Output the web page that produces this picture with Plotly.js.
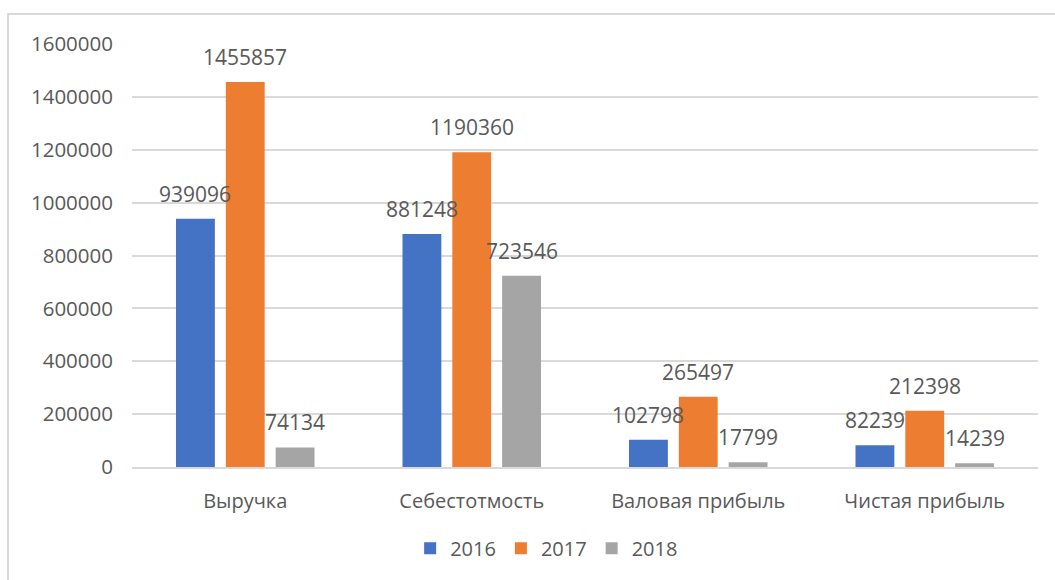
<!DOCTYPE html>
<html>
<head>
<meta charset="utf-8">
<script src="https://cdn.plot.ly/plotly-3.0.1.min.js"></script>
<style>
html,body{margin:0;padding:0;background:#fff;overflow:hidden;}
#chart{width:1055px;height:580px;}
#frame{position:fixed;left:7px;top:13px;width:1100px;height:620px;border:2px solid #D9D9D9;pointer-events:none;}
</style>
</head>
<body>
<div id="chart"></div>
<div id="frame"></div>
<script>
var categories = ["Выручка", "Себестотмость", "Валовая прибыль", "Чистая прибыль"];
var seriesNames = ["2016", "2017", "2018"];
var values2016 = [939096, 881248, 102798, 82239];
var values2017 = [1455857, 1190360, 265497, 212398];
var values2018 = [74134, 723546, 17799, 14239];
var colors = ["#4472C4", "#ED7D31", "#A5A5A5"];
var yTicks = [0, 200000, 400000, 600000, 800000, 1000000, 1200000, 1400000, 1600000];

var allValues = [values2016, values2017, values2018];
var font = "Open Sans, Noto Sans, sans-serif";
var textColor = "#595959";

var traces = allValues.map(function(vals, i){
  return {
    type: "bar",
    name: seriesNames[i],
    x: categories,
    y: vals,
    marker: {color: colors[i]},
    hoverinfo: "none"
  };
});

var annotations = [];
var shifts = [-50, 0, 50];
allValues.forEach(function(vals, i){
  vals.forEach(function(v, j){
    annotations.push({
      x: categories[j], y: v, xref: "x", yref: "y",
      text: String(v), showarrow: false,
      xanchor: "center", yanchor: "middle",
      xshift: shifts[i], yshift: 25,
      font: {family: font, size: 21, color: textColor}
    });
  });
});

var layout = {
  width: 1055, height: 580,
  margin: {l: 132, r: 17, t: 44, b: 113},
  paper_bgcolor: "#ffffff", plot_bgcolor: "#ffffff",
  barmode: "group", bargap: 0.34, bargroupgap: 0.22,
  showlegend: true,
  legend: {orientation: "h", x: 0.307, xanchor: "left", y: -0.192, yanchor: "middle",
           font: {family: font, size: 20, color: textColor}, traceorder: "normal", itemwidth: 30},
  xaxis: {type: "category", showgrid: false, showline: true, linecolor: "#D9D9D9", linewidth: 2,
          ticks: "", ticklabelstandoff: 15, tickfont: {family: font, size: 20, color: textColor}, fixedrange: true},
  yaxis: {range: [0, 1600000], tickvals: yTicks, ticktext: yTicks.map(String), showgrid: true, gridcolor: "#D9D9D9", gridwidth: 2,
          zeroline: false, showline: false, ticks: "", ticklabelstandoff: 18,
          tickfont: {family: font, size: 20.5, color: textColor}, fixedrange: true},
  annotations: annotations,
  font: {family: font, color: textColor}
};

Plotly.newPlot("chart", traces, layout, {displayModeBar: false, staticPlot: true});
</script>
</body>
</html>
